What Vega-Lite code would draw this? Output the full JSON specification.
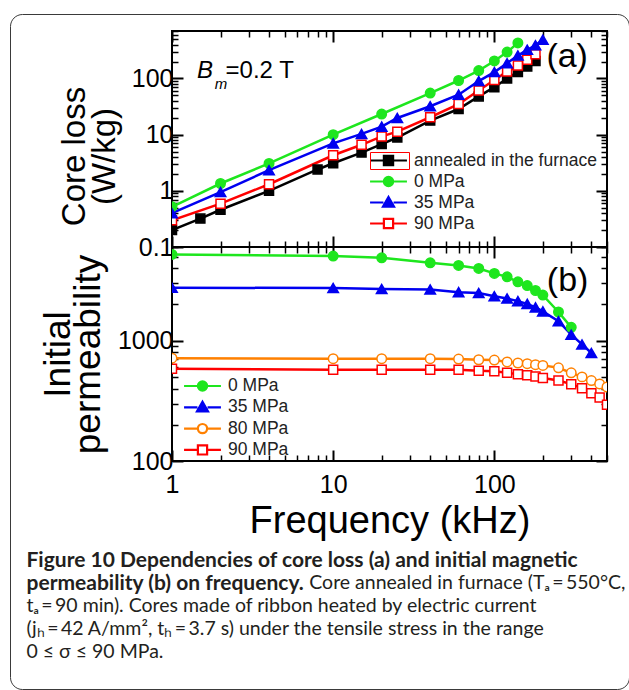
{
  "$schema": "https://vega.github.io/schema/vega-lite/v6.json",
  "background": "white",
  "padding": {"left": 8, "top": 12, "right": 0, "bottom": 0},
  "autosize": {"type": "pad"},
  "spacing": 0,
  "bounds": "flush",
  "datasets": {
    "loss": [
      {"f": 1, "v": 0.2, "s": "annealed in the furnace"},
      {"f": 1.5, "v": 0.32, "s": "annealed in the furnace"},
      {"f": 2, "v": 0.46, "s": "annealed in the furnace"},
      {"f": 4, "v": 1.0, "s": "annealed in the furnace"},
      {"f": 8, "v": 2.4, "s": "annealed in the furnace"},
      {"f": 10, "v": 3.1, "s": "annealed in the furnace"},
      {"f": 15, "v": 4.8, "s": "annealed in the furnace"},
      {"f": 20, "v": 6.8, "s": "annealed in the furnace"},
      {"f": 25, "v": 8.9, "s": "annealed in the furnace"},
      {"f": 40, "v": 17.8, "s": "annealed in the furnace"},
      {"f": 60, "v": 28.6, "s": "annealed in the furnace"},
      {"f": 80, "v": 48, "s": "annealed in the furnace"},
      {"f": 100, "v": 70, "s": "annealed in the furnace"},
      {"f": 120, "v": 100, "s": "annealed in the furnace"},
      {"f": 140, "v": 130, "s": "annealed in the furnace"},
      {"f": 160, "v": 163, "s": "annealed in the furnace"},
      {"f": 180, "v": 205, "s": "annealed in the furnace"},
      {"f": 1, "v": 0.52, "s": "0 MPa"},
      {"f": 2, "v": 1.35, "s": "0 MPa"},
      {"f": 4, "v": 3.07, "s": "0 MPa"},
      {"f": 10, "v": 10, "s": "0 MPa"},
      {"f": 20, "v": 23.3, "s": "0 MPa"},
      {"f": 40, "v": 55, "s": "0 MPa"},
      {"f": 60, "v": 92, "s": "0 MPa"},
      {"f": 80, "v": 138, "s": "0 MPa"},
      {"f": 100, "v": 205, "s": "0 MPa"},
      {"f": 120, "v": 295, "s": "0 MPa"},
      {"f": 140, "v": 430, "s": "0 MPa"},
      {"f": 1, "v": 0.4, "s": "35 MPa"},
      {"f": 2, "v": 0.95, "s": "35 MPa"},
      {"f": 4, "v": 2.33, "s": "35 MPa"},
      {"f": 10, "v": 7.0, "s": "35 MPa"},
      {"f": 15, "v": 10.3, "s": "35 MPa"},
      {"f": 20, "v": 13.9, "s": "35 MPa"},
      {"f": 25, "v": 19.8, "s": "35 MPa"},
      {"f": 40, "v": 32, "s": "35 MPa"},
      {"f": 60, "v": 51.5, "s": "35 MPa"},
      {"f": 80, "v": 90, "s": "35 MPa"},
      {"f": 100, "v": 130, "s": "35 MPa"},
      {"f": 120, "v": 187, "s": "35 MPa"},
      {"f": 140, "v": 256, "s": "35 MPa"},
      {"f": 160, "v": 325, "s": "35 MPa"},
      {"f": 180, "v": 390, "s": "35 MPa"},
      {"f": 200, "v": 490, "s": "35 MPa"},
      {"f": 1, "v": 0.3, "s": "90 MPa"},
      {"f": 2, "v": 0.59, "s": "90 MPa"},
      {"f": 4, "v": 1.31, "s": "90 MPa"},
      {"f": 10, "v": 4.3, "s": "90 MPa"},
      {"f": 15, "v": 6.6, "s": "90 MPa"},
      {"f": 20, "v": 9.3, "s": "90 MPa"},
      {"f": 25, "v": 11.3, "s": "90 MPa"},
      {"f": 40, "v": 20.4, "s": "90 MPa"},
      {"f": 60, "v": 35, "s": "90 MPa"},
      {"f": 80, "v": 61, "s": "90 MPa"},
      {"f": 100, "v": 94, "s": "90 MPa"},
      {"f": 120, "v": 133, "s": "90 MPa"},
      {"f": 140, "v": 170, "s": "90 MPa"},
      {"f": 160, "v": 215, "s": "90 MPa"},
      {"f": 180, "v": 270, "s": "90 MPa"}
    ],
    "perm": [
      {"f": 1, "v": 5200, "s": "0 MPa"},
      {"f": 10, "v": 5040, "s": "0 MPa"},
      {"f": 20, "v": 4880, "s": "0 MPa"},
      {"f": 40, "v": 4430, "s": "0 MPa"},
      {"f": 60, "v": 4220, "s": "0 MPa"},
      {"f": 80, "v": 3980, "s": "0 MPa"},
      {"f": 100, "v": 3620, "s": "0 MPa"},
      {"f": 120, "v": 3390, "s": "0 MPa"},
      {"f": 140, "v": 3080, "s": "0 MPa"},
      {"f": 160, "v": 2870, "s": "0 MPa"},
      {"f": 180, "v": 2610, "s": "0 MPa"},
      {"f": 200, "v": 2390, "s": "0 MPa"},
      {"f": 250, "v": 1730, "s": "0 MPa"},
      {"f": 300, "v": 1290, "s": "0 MPa"},
      {"f": 1, "v": 2750, "s": "35 MPa"},
      {"f": 10, "v": 2740, "s": "35 MPa"},
      {"f": 20, "v": 2690, "s": "35 MPa"},
      {"f": 40, "v": 2660, "s": "35 MPa"},
      {"f": 60, "v": 2530, "s": "35 MPa"},
      {"f": 80, "v": 2490, "s": "35 MPa"},
      {"f": 100, "v": 2340, "s": "35 MPa"},
      {"f": 120, "v": 2240, "s": "35 MPa"},
      {"f": 140, "v": 2130, "s": "35 MPa"},
      {"f": 160, "v": 2020, "s": "35 MPa"},
      {"f": 180, "v": 1890, "s": "35 MPa"},
      {"f": 200, "v": 1750, "s": "35 MPa"},
      {"f": 250, "v": 1450, "s": "35 MPa"},
      {"f": 300, "v": 1120, "s": "35 MPa"},
      {"f": 350, "v": 930, "s": "35 MPa"},
      {"f": 400, "v": 790, "s": "35 MPa"},
      {"f": 1, "v": 715, "s": "80 MPa"},
      {"f": 10, "v": 708, "s": "80 MPa"},
      {"f": 20, "v": 708, "s": "80 MPa"},
      {"f": 40, "v": 708, "s": "80 MPa"},
      {"f": 60, "v": 703, "s": "80 MPa"},
      {"f": 80, "v": 694, "s": "80 MPa"},
      {"f": 100, "v": 690, "s": "80 MPa"},
      {"f": 120, "v": 665, "s": "80 MPa"},
      {"f": 140, "v": 652, "s": "80 MPa"},
      {"f": 160, "v": 643, "s": "80 MPa"},
      {"f": 180, "v": 631, "s": "80 MPa"},
      {"f": 200, "v": 623, "s": "80 MPa"},
      {"f": 250, "v": 595, "s": "80 MPa"},
      {"f": 300, "v": 540, "s": "80 MPa"},
      {"f": 350, "v": 500, "s": "80 MPa"},
      {"f": 400, "v": 466, "s": "80 MPa"},
      {"f": 450, "v": 437, "s": "80 MPa"},
      {"f": 500, "v": 412, "s": "80 MPa"},
      {"f": 1, "v": 585, "s": "90 MPa"},
      {"f": 10, "v": 573, "s": "90 MPa"},
      {"f": 20, "v": 573, "s": "90 MPa"},
      {"f": 40, "v": 573, "s": "90 MPa"},
      {"f": 60, "v": 573, "s": "90 MPa"},
      {"f": 80, "v": 562, "s": "90 MPa"},
      {"f": 100, "v": 556, "s": "90 MPa"},
      {"f": 120, "v": 540, "s": "90 MPa"},
      {"f": 140, "v": 527, "s": "90 MPa"},
      {"f": 160, "v": 515, "s": "90 MPa"},
      {"f": 180, "v": 504, "s": "90 MPa"},
      {"f": 200, "v": 490, "s": "90 MPa"},
      {"f": 250, "v": 467, "s": "90 MPa"},
      {"f": 300, "v": 435, "s": "90 MPa"},
      {"f": 350, "v": 403, "s": "90 MPa"},
      {"f": 400, "v": 366, "s": "90 MPa"},
      {"f": 450, "v": 337, "s": "90 MPa"},
      {"f": 500, "v": 293, "s": "90 MPa"}
    ]
  },
  "title": {
    "text": ["Figure 10 Dependencies of core loss (a) and initial magnetic", "permeability (b) on frequency."],
    "subtitle": ["\u200b\u2003\u2003\u2003\u2003\u2003\u2003\u2003\u2003\u2003\u2003\u2003\u2003\u2003\u2003\u2003\u2003\u2003\u2003\u2009\u2009\u2009\u2009\u2009\u2009\u2009\u2009Core annealed in furnace (T\u2090\u2009=\u2009550\u00b0C,", "t\u2090\u2009=\u200990 min). Cores made of ribbon heated by electric current", "(j\u2095\u2009=\u200942 A/mm\u00b2, t\u2095\u2009=\u20093.7 s) under the tensile stress in the range", "0 \u2264 \u03c3 \u2264 90 MPa."],
    "orient": "bottom",
    "anchor": "start",
    "frame": "bounds",
    "dx": 18,
    "offset": -141,
    "font": "Lato",
    "fontSize": 21,
    "fontWeight": "bold",
    "color": "#231f20",
    "lineHeight": 23,
    "subtitleFont": "Lato",
    "subtitleFontSize": 19.5,
    "subtitleFontWeight": "normal",
    "subtitleColor": "#231f20",
    "subtitleLineHeight": 23,
    "subtitlePadding": -20
  },
  "config": {
    "view": {"stroke": "black", "strokeWidth": 2},
    "font": "Liberation Sans",
    "axis": {
      "domain": false,
      "grid": false,
      "tickColor": "black",
      "labelColor": "black",
      "titleColor": "black",
      "labelFont": "Liberation Sans",
      "titleFont": "Liberation Sans",
      "titleFontWeight": "normal",
      "labelFontSize": 25,
      "labelFlush": false,
      "labelOverlap": false
    },
    "legend": {
      "orient": "none",
      "title": null,
      "padding": 0,
      "labelFont": "Liberation Sans",
      "labelFontSize": 17.5,
      "labelColor": "#222222",
      "labelOffset": 15,
      "labelLimit": 300,
      "symbolSize": 340,
      "symbolStrokeWidth": 2.2,
      "rowPadding": 0
    }
  },
  "resolve": {"scale": {"x": "independent", "y": "independent", "stroke": "independent", "fill": "independent", "shape": "independent", "color": "independent"}},
  "vconcat": [
    {
      "width": 435,
      "height": 216,
      "data": {"name": "loss"},
      "resolve": {"axis": {"x": "independent", "y": "independent"}},
      "layer": [
        {
          "transform": [{"filter": "false"}],
          "mark": {"type": "point", "opacity": 1, "strokeWidth": 2.2},
          "encoding": {
            "shape": {"field": "s", "type": "nominal",
              "scale": {"domain": ["annealed in the furnace", "0 MPa", "35 MPa", "90 MPa"],
                "range": ["M-2,0H-0.5M0.5,0H2M-0.5,-0.5H0.5V0.5H-0.5Z", "M-2,0H-0.5M0.5,0H2M0.5,0A0.5,0.5,0,1,1,-0.5,0A0.5,0.5,0,1,1,0.5,0Z", "M-2,0H-0.55M0.55,0H2M0,-0.6L0.6,0.45H-0.6Z", "M-2,0H-0.5M0.5,0H2M-0.5,-0.5H0.5V0.5H-0.5Z"]},
              "legend": {"orient": "none", "legendX": 206, "legendY": 119, "rowPadding": 1}},
            "stroke": {"field": "s", "type": "nominal",
              "scale": {"domain": ["annealed in the furnace", "0 MPa", "35 MPa", "90 MPa"], "range": ["#000000", "#1ee61e", "#0000f0", "#ff0000"]},
              "legend": {"orient": "none", "legendX": 206, "legendY": 119, "rowPadding": 1}},
            "fill": {"field": "s", "type": "nominal",
              "scale": {"domain": ["annealed in the furnace", "0 MPa", "35 MPa", "90 MPa"], "range": ["#000000", "#1ee61e", "#0000f0", "#ffffff"]},
              "legend": {"orient": "none", "legendX": 206, "legendY": 119, "rowPadding": 1}}
          }
        },
        {
          "transform": [{"filter": "false"}],
          "mark": {"type": "point", "opacity": 1},
          "encoding": {
            "color": {"field": "f", "type": "quantitative",
              "scale": {"domain": [0, 1], "range": ["rgba(255,255,255,0)", "rgba(255,255,255,0)"]},
              "legend": {"type": "gradient", "orient": "none", "direction": "vertical", "legendX": -162, "legendY": -17,
                "gradientLength": 675, "gradientThickness": 619, "gradientStrokeWidth": 0, "gradientStrokeColor": "rgba(0,0,0,0)",
                "strokeColor": "#3a3a3a", "cornerRadius": 12, "padding": 0,
                "labelExpr": "''", "labelOffset": 0, "labelFontSize": 1, "title": null}}
          }
        },
        {
          "mark": {"type": "line", "strokeWidth": 2.5, "clip": true},
          "encoding": {
            "x": {"field": "f", "type": "quantitative", "scale": {"type": "log", "domain": [1, 500], "nice": false},
              "axis": {"orient": "bottom", "values": [1, 10, 100], "labels": false, "tickSize": -11, "tickWidth": 2, "title": null}},
            "y": {"field": "v", "type": "quantitative", "scale": {"type": "log", "domain": [0.1, 700], "nice": false},
              "axis": {"orient": "left", "values": [0.1, 1, 10, 100], "format": "~g", "tickSize": -11, "tickWidth": 2, "labelPadding": 10,
                "title": ["Core loss", "(W/kg)"], "titleFontSize": 33, "titleLineHeight": 30, "titlePadding": 10, "titleY": 125}},
            "stroke": {"field": "s", "type": "nominal"}
          }
        },
        {
          "transform": [{"filter": "datum.s == 'annealed in the furnace' || datum.s == '90 MPa'"}],
          "mark": {"type": "point", "shape": "square", "size": 81, "strokeWidth": 1.5, "opacity": 1, "clip": true},
          "encoding": {
            "x": {"field": "f", "type": "quantitative", "axis": {"orient": "bottom", "values": [2,3,4,5,6,7,8,9,20,30,40,50,60,70,80,90,200,300,400,500], "labels": false, "tickSize": -6, "tickWidth": 1.5, "title": null}},
            "y": {"field": "v", "type": "quantitative", "axis": {"orient": "left", "values": [0.2,0.3,0.4,0.5,0.6,0.7,0.8,0.9,2,3,4,5,6,7,8,9,20,30,40,50,60,70,80,90,200,300,400,500,600,700], "labels": false, "tickSize": -6, "tickWidth": 1.5, "title": null}},
            "stroke": {"field": "s", "type": "nominal"},
            "fill": {"field": "s", "type": "nominal"}
          }
        },
        {
          "transform": [{"filter": "datum.s == '0 MPa'"}],
          "mark": {"type": "point", "shape": "circle", "size": 90, "strokeWidth": 1.5, "opacity": 1, "clip": true},
          "encoding": {
            "x": {"field": "f", "type": "quantitative", "axis": {"orient": "top", "values": [1, 10, 100], "labels": false, "tickSize": -11, "tickWidth": 2, "title": null}},
            "y": {"field": "v", "type": "quantitative", "axis": {"orient": "right", "values": [0.1, 1, 10, 100], "labels": false, "tickSize": -11, "tickWidth": 2, "title": null}},
            "stroke": {"field": "s", "type": "nominal"},
            "fill": {"field": "s", "type": "nominal"}
          }
        },
        {
          "transform": [{"filter": "datum.s == '35 MPa'"}],
          "mark": {"type": "point", "shape": "triangle-up", "size": 110, "strokeWidth": 1.5, "opacity": 1, "clip": true},
          "encoding": {
            "x": {"field": "f", "type": "quantitative", "axis": {"orient": "top", "values": [2,3,4,5,6,7,8,9,20,30,40,50,60,70,80,90,200,300,400,500], "labels": false, "tickSize": -6, "tickWidth": 1.5, "title": null}},
            "y": {"field": "v", "type": "quantitative", "axis": {"orient": "right", "values": [0.2,0.3,0.4,0.5,0.6,0.7,0.8,0.9,2,3,4,5,6,7,8,9,20,30,40,50,60,70,80,90,200,300,400,500,600,700], "labels": false, "tickSize": -6, "tickWidth": 1.5, "title": null}},
            "stroke": {"field": "s", "type": "nominal"},
            "fill": {"field": "s", "type": "nominal"}
          }
        },
        {
          "data": {"values": [{}]},
          "mark": {"type": "text", "fontSize": 34, "align": "center", "baseline": "alphabetic", "font": "Liberation Sans"},
          "encoding": {
            "x": {"datum": 283, "type": "quantitative", "axis": null},
            "y": {"datum": 159, "type": "quantitative", "axis": null},
            "text": {"value": "(a)"}
          }
        },
        {
          "data": {"values": [{}]},
          "mark": {"type": "text", "fontSize": 24, "fontStyle": "italic", "align": "left", "baseline": "alphabetic", "font": "Liberation Sans"},
          "encoding": {
            "x": {"datum": 1.43, "type": "quantitative", "axis": null},
            "y": {"datum": 100, "type": "quantitative", "axis": null},
            "text": {"value": "B"}
          }
        },
        {
          "data": {"values": [{}]},
          "mark": {"type": "text", "fontSize": 15, "fontStyle": "italic", "align": "left", "baseline": "alphabetic", "font": "Liberation Sans"},
          "encoding": {
            "x": {"datum": 1.84, "type": "quantitative", "axis": null},
            "y": {"datum": 64, "type": "quantitative", "axis": null},
            "text": {"value": "m"}
          }
        },
        {
          "data": {"values": [{}]},
          "mark": {"type": "text", "fontSize": 24, "align": "left", "baseline": "alphabetic", "font": "Liberation Sans"},
          "encoding": {
            "x": {"datum": 2.15, "type": "quantitative", "axis": null},
            "y": {"datum": 100, "type": "quantitative", "axis": null},
            "text": {"value": "=0.2 T"}
          }
        }
      ]
    },
    {
      "width": 435,
      "height": 214,
      "data": {"name": "perm"},
      "resolve": {"axis": {"x": "independent", "y": "independent"}},
      "layer": [
        {
          "transform": [{"filter": "false"}],
          "mark": {"type": "point", "opacity": 1, "strokeWidth": 2.2},
          "encoding": {
            "shape": {"field": "s", "type": "nominal",
              "scale": {"domain": ["0 MPa", "35 MPa", "80 MPa", "90 MPa"],
                "range": ["M-2,0H-0.5M0.5,0H2M0.5,0A0.5,0.5,0,1,1,-0.5,0A0.5,0.5,0,1,1,0.5,0Z", "M-2,0H-0.55M0.55,0H2M0,-0.6L0.6,0.45H-0.6Z", "M-2,0H-0.5M0.5,0H2M0.5,0A0.5,0.5,0,1,1,-0.5,0A0.5,0.5,0,1,1,0.5,0Z", "M-2,0H-0.5M0.5,0H2M-0.5,-0.5H0.5V0.5H-0.5Z"]},
              "legend": {"orient": "none", "legendX": 20, "legendY": 128.5, "rowPadding": 1.3}},
            "stroke": {"field": "s", "type": "nominal",
              "scale": {"domain": ["0 MPa", "35 MPa", "80 MPa", "90 MPa"], "range": ["#1ee61e", "#0000f0", "#ff8000", "#ff0000"]},
              "legend": {"orient": "none", "legendX": 20, "legendY": 128.5, "rowPadding": 1.3}},
            "fill": {"field": "s", "type": "nominal",
              "scale": {"domain": ["0 MPa", "35 MPa", "80 MPa", "90 MPa"], "range": ["#1ee61e", "#0000f0", "#ffffff", "#ffffff"]},
              "legend": {"orient": "none", "legendX": 20, "legendY": 128.5, "rowPadding": 1.3}}
          }
        },
        {
          "transform": [{"filter": "false"}],
          "mark": {"type": "point", "opacity": 1},
          "encoding": {
            "color": {"field": "f", "type": "quantitative",
              "scale": {"domain": [0, 1], "range": ["rgba(255,255,255,0)", "rgba(255,255,255,0)"]},
              "legend": {"type": "gradient", "orient": "none", "direction": "vertical", "legendX": 198, "legendY": -95,
                "gradientLength": 17, "gradientThickness": 39, "gradientStrokeWidth": 0, "gradientStrokeColor": "rgba(0,0,0,0)",
                "strokeColor": "#ff0000", "cornerRadius": 0, "padding": 0,
                "labelExpr": "''", "labelOffset": 0, "labelFontSize": 1, "title": null}}
          }
        },
        {
          "mark": {"type": "line", "strokeWidth": 2.5, "clip": true},
          "encoding": {
            "x": {"field": "f", "type": "quantitative", "scale": {"type": "log", "domain": [1, 500], "nice": false},
              "axis": {"orient": "bottom", "values": [1, 10, 100], "format": "~g", "tickSize": -11, "tickWidth": 2, "labelPadding": 22,
                "title": "Frequency (kHz)", "titleFontSize": 38, "titlePadding": 5}},
            "y": {"field": "v", "type": "quantitative", "scale": {"type": "log", "domain": [100, 6000], "nice": false},
              "axis": {"orient": "left", "values": [100, 1000], "format": "~g", "tickSize": -11, "tickWidth": 2, "labelPadding": 10,
                "title": ["Initial", "permeability"], "titleFontSize": 37, "titleLineHeight": 30, "titlePadding": 10}},
            "stroke": {"field": "s", "type": "nominal"}
          }
        },
        {
          "transform": [{"filter": "datum.s == '90 MPa'"}],
          "mark": {"type": "point", "shape": "square", "size": 81, "strokeWidth": 1.5, "opacity": 1, "clip": true},
          "encoding": {
            "x": {"field": "f", "type": "quantitative", "axis": {"orient": "bottom", "values": [2,3,4,5,6,7,8,9,20,30,40,50,60,70,80,90,200,300,400,500], "labels": false, "tickSize": -6, "tickWidth": 1.5, "title": null}},
            "y": {"field": "v", "type": "quantitative", "axis": {"orient": "left", "values": [200,300,400,500,600,700,800,900,2000,3000,4000,5000,6000], "labels": false, "tickSize": -6, "tickWidth": 1.5, "title": null}},
            "stroke": {"field": "s", "type": "nominal"},
            "fill": {"field": "s", "type": "nominal"}
          }
        },
        {
          "transform": [{"filter": "datum.s == '0 MPa' || datum.s == '80 MPa'"}],
          "mark": {"type": "point", "shape": "circle", "size": 90, "strokeWidth": 1.5, "opacity": 1, "clip": true},
          "encoding": {
            "x": {"field": "f", "type": "quantitative", "axis": {"orient": "top", "values": [1, 10, 100], "labels": false, "tickSize": -11, "tickWidth": 2, "title": null}},
            "y": {"field": "v", "type": "quantitative", "axis": {"orient": "right", "values": [100, 1000], "labels": false, "tickSize": -11, "tickWidth": 2, "title": null}},
            "stroke": {"field": "s", "type": "nominal"},
            "fill": {"field": "s", "type": "nominal"}
          }
        },
        {
          "transform": [{"filter": "datum.s == '35 MPa'"}],
          "mark": {"type": "point", "shape": "triangle-up", "size": 110, "strokeWidth": 1.5, "opacity": 1, "clip": true},
          "encoding": {
            "x": {"field": "f", "type": "quantitative", "axis": {"orient": "top", "values": [2,3,4,5,6,7,8,9,20,30,40,50,60,70,80,90,200,300,400,500], "labels": false, "tickSize": -6, "tickWidth": 1.5, "title": null}},
            "y": {"field": "v", "type": "quantitative", "axis": {"orient": "right", "values": [200,300,400,500,600,700,800,900,2000,3000,4000,5000,6000], "labels": false, "tickSize": -6, "tickWidth": 1.5, "title": null}},
            "stroke": {"field": "s", "type": "nominal"},
            "fill": {"field": "s", "type": "nominal"}
          }
        },
        {
          "data": {"values": [{}]},
          "mark": {"type": "text", "fontSize": 34, "align": "center", "baseline": "alphabetic", "font": "Liberation Sans"},
          "encoding": {
            "x": {"datum": 285, "type": "quantitative", "axis": null},
            "y": {"datum": 2575, "type": "quantitative", "axis": null},
            "text": {"value": "(b)"}
          }
        }
      ]
    }
  ]
}
